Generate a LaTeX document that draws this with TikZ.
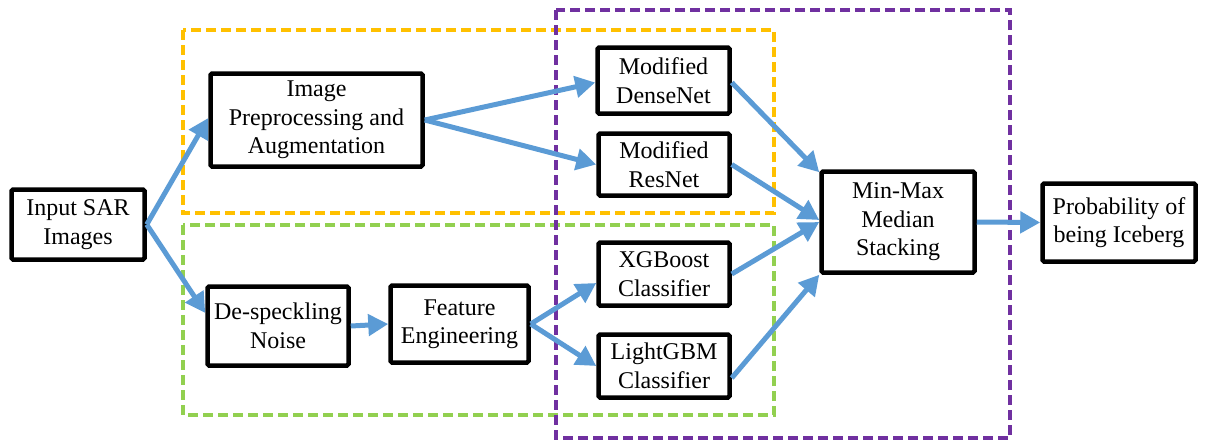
\documentclass[tikz,border=0pt]{standalone}
\usepackage{fontspec}
\setmainfont{Liberation Serif}
\usetikzlibrary{arrows.meta}
\definecolor{arrblue}{HTML}{5B9BD5}
\definecolor{gold}{HTML}{FFC000}
\definecolor{lgreen}{HTML}{92D050}
\definecolor{purp}{HTML}{7030A0}
\tikzset{
  box/.style={draw=black, line width=4.5pt, fill=white, align=center, rounded corners=1.5pt,
    font=\fontsize{24}{28.5}\selectfont, inner sep=0pt},
  conn/.style={draw=arrblue, line width=5pt, -{Triangle[length=20pt,width=21pt]}},
  group/.style={line width=4pt, dash pattern=on 10pt off 5pt},
}
\begin{document}
\begin{tikzpicture}[x=1pt,y=-1pt]
\useasboundingbox (0,0) rectangle (1207,445);
% groups
\draw[group, gold] (183,30) rectangle (774,213);
\draw[group, lgreen] (183,225) rectangle (774,415);
\draw[group, purp] (556,10) rectangle (1010,438);
% nodes
\node[box, minimum width=133pt, minimum height=70pt] (in) at (78,224.5) {Input SAR\\Images};
\node[box, minimum width=212pt, minimum height=93pt] (pre) at (316.5,120) {Image\\Preprocessing and\\Augmentation};
\node[box, minimum width=132pt, minimum height=66pt] (dense) at (663.5,80.5) {Modified\\DenseNet};
\node[box, minimum width=131pt, minimum height=62pt] (res) at (664,164.5) {Modified\\ResNet};
\node[box, minimum width=131pt, minimum height=63pt] (xgb) at (664,274) {XGBoost\\Classifier};
\node[box, minimum width=131pt, minimum height=63pt] (lgbm) at (664,366) {LightGBM\\Classifier};
\node[box, minimum width=153pt, minimum height=101pt] (mm) at (898,222) {Min-Max\\Median\\Stacking};
\node[box, minimum width=153pt, minimum height=78pt] (prob) at (1119,222.5) {Probability of\\being Iceberg};
\node[box, minimum width=141pt, minimum height=79pt] (ds) at (278,326) {De-speckling\\Noise};
\node[box, minimum width=138pt, minimum height=77pt] (fe) at (459.5,324) {Feature\\Engineering};
% connectors
\draw[conn] (in.east) -- ([yshift=2pt]pre.west);
\draw[conn] (in.east) -- ([yshift=13pt]ds.west);
\draw[conn] (ds.east) -- (fe.west);
\draw[conn] (pre.east) -- ([yshift=-2pt]dense.west);
\draw[conn] (pre.east) -- (res.west);
\draw[conn] (fe.east) -- ([yshift=-9pt]xgb.west);
\draw[conn] (fe.east) -- (lgbm.west);
\draw[conn] ([yshift=-2pt]dense.east) -- ([yshift=-3pt]mm.north west);
\draw[conn] (res.east) -- ([yshift=2pt]mm.west);
\draw[conn] (xgb.east) -- (mm.west);
\draw[conn] ([yshift=-12pt]lgbm.east) -- (mm.south west);
\draw[conn] (mm.east) -- (prob.west);
\end{tikzpicture}
\end{document}
